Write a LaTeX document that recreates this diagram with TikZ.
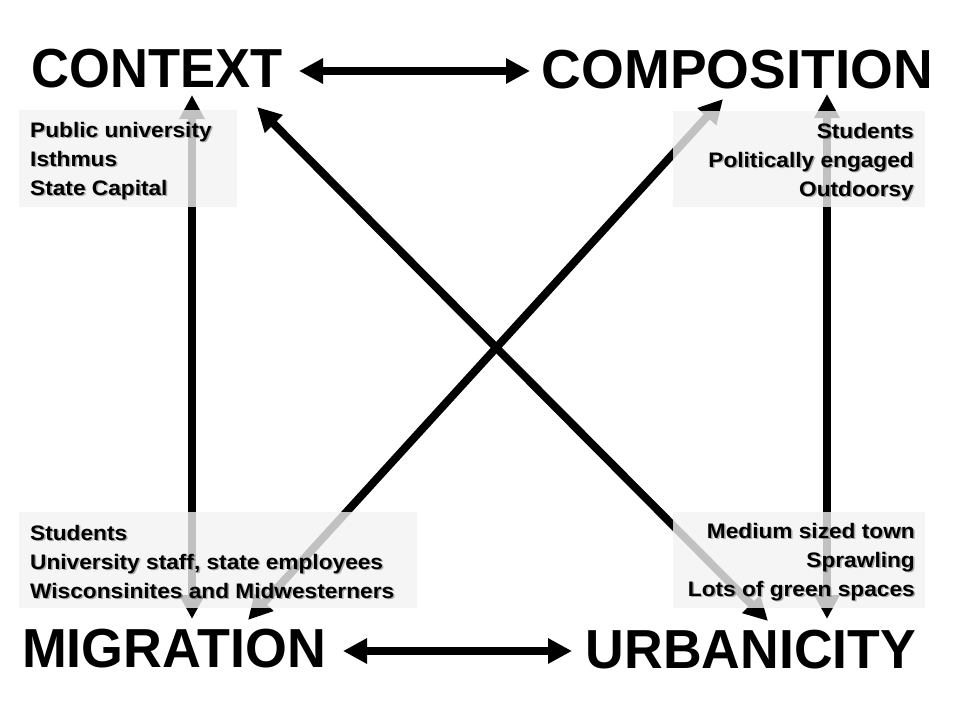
\documentclass[tikz,border=0pt]{standalone}
\usepackage{fontspec}
\setmainfont{Liberation Sans}
\newfontfamily\notefont[FakeStretch=1.08]{Liberation Sans}
\usetikzlibrary{arrows.meta}
\definecolor{boxgray}{HTML}{F2F2F2}
\begin{document}
\begin{tikzpicture}[x=1pt,y=-1pt,
  title/.style={font=\fontsize{55}{55}\selectfont\bfseries, inner sep=0, anchor=base},
  infobox/.style={fill=boxgray, fill opacity=0.8, draw=none, inner sep=0},
  info/.style={font=\notefont\fontsize{21}{29}\selectfont\bfseries, inner sep=0},
  infoshade/.style={info, text=black, text opacity=0.3},
  link/.style={line width=8pt,
    {Triangle[length=24pt,width=24pt]}-{Triangle[length=24pt,width=24pt]}}
]
\useasboundingbox (0,0) rectangle (960,720);

% the four factors
\node[title] (context)     at (157,87)    {\scalebox{0.955}[1]{CONTEXT}};
\node[title] (composition) at (737.5,88)  {COMPOSITION};
\node[title] (migration)   at (174,667)   {\scalebox{0.978}[1]{MIGRATION}};
\node[title] (urbanicity)  at (751,668)   {\scalebox{0.974}[1]{URBANICITY}};

% connector end points next to the factor labels
\coordinate (ctx-e)  at (299,71);
\coordinate (cmp-w)  at (530,71);
\coordinate (mig-e)  at (343,651);
\coordinate (urb-w)  at (572,651);
\coordinate (ctx-s)  at (192,95);
\coordinate (mig-n)  at (192,619);
\coordinate (cmp-s)  at (827,94);
\coordinate (urb-n)  at (827,619);
\coordinate (ctx-se) at (257,107);
\coordinate (urb-nw) at (768,621);
\coordinate (cmp-sw) at (723,99);
\coordinate (mig-ne) at (248,620);

% two-way links
\draw[link] (ctx-e)  -- (cmp-w);
\draw[link] (mig-e)  -- (urb-w);
\draw[link] (ctx-s)  -- (mig-n);
\draw[link] (cmp-s)  -- (urb-n);
\draw[link] (ctx-se) -- (urb-nw);
\draw[link] (cmp-sw) -- (mig-ne);

% translucent note panels
\node[infobox, minimum width=218pt, minimum height=97pt] (tlbox) at (128,158.5) {};
\node[infobox, minimum width=252pt, minimum height=96pt] (trbox) at (799,159)   {};
\node[infobox, minimum width=398pt, minimum height=96pt] (blbox) at (218,560)   {};
\node[infobox, minimum width=252pt, minimum height=96pt] (brbox) at (799,560)   {};

% panel notes, each with a soft shadow
\foreach \t [count=\i] in {Public university, Isthmus, State Capital} {
  \node[infoshade, anchor=base west] at (31.5,{138.5+29*(\i-1)}) {\t};
  \node[info, anchor=base west] (tl\i) at (30,{137+29*(\i-1)}) {\t};
}
\foreach \t [count=\i] in {Students, Politically engaged, Outdoorsy} {
  \node[infoshade, anchor=base east] at (915.5,{139.5+29*(\i-1)}) {\t};
  \node[info, anchor=base east] (tr\i) at (914,{138+29*(\i-1)}) {\t};
}
\foreach \t [count=\i] in {Students, {University staff, state employees}, Wisconsinites and Midwesterners} {
  \node[infoshade, anchor=base west] at (31.5,{541.5+29*(\i-1)}) {\t};
  \node[info, anchor=base west] (bl\i) at (30,{540+29*(\i-1)}) {\t};
}
\foreach \t [count=\i] in {Medium sized town, Sprawling, Lots of green spaces} {
  \node[infoshade, anchor=base east] at (916.5,{539.5+29*(\i-1)}) {\t};
  \node[info, anchor=base east] (br\i) at (915,{538+29*(\i-1)}) {\t};
}
\end{tikzpicture}
\end{document}
